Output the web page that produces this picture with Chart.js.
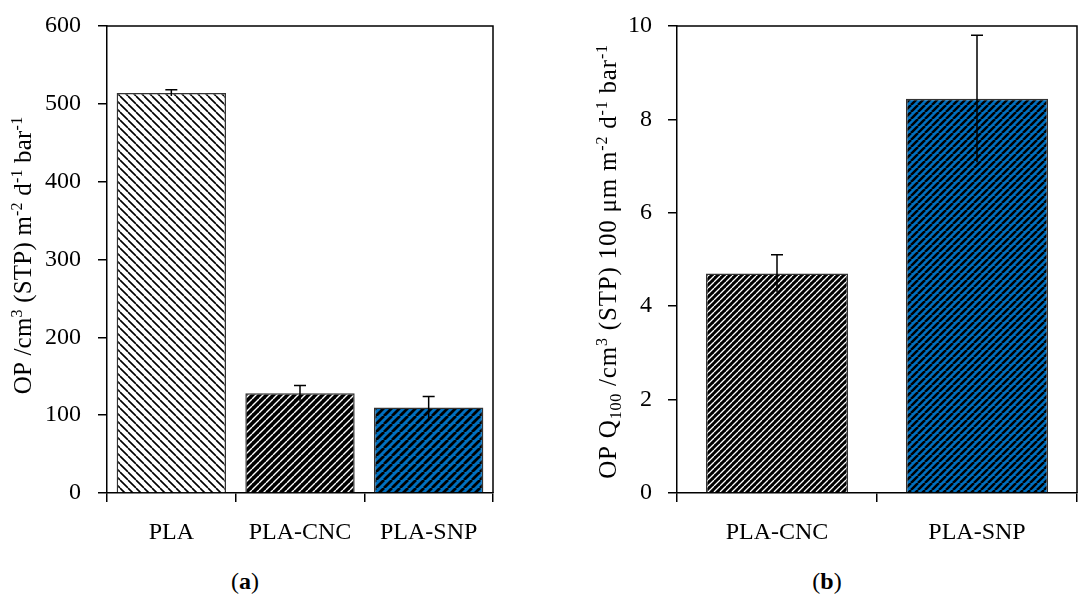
<!DOCTYPE html>
<html>
<head>
<meta charset="utf-8">
<script src="https://cdn.jsdelivr.net/npm/chart.js@4.4.0/dist/chart.umd.min.js"></script>
<style>
body{margin:0;background:#fff;width:1081px;height:594px;overflow:hidden;position:relative;font-family:"Liberation Serif",serif}
#wa{position:absolute;left:0;top:0;width:540px;height:560px}
#wb{position:absolute;left:540px;top:0;width:541px;height:560px}
.cap{position:absolute;top:568px;width:100px;text-align:center;font-size:24px;line-height:26px;color:#000}
</style>
</head>
<body>
<div id="wa"><canvas id="chartA"></canvas></div>
<div id="wb"><canvas id="chartB"></canvas></div>
<div class="cap" style="left:195px">(<b>a</b>)</div>
<div class="cap" style="left:777px">(<b>b</b>)</div>
<script>
// panel (a)
var catsA = ['PLA', 'PLA-CNC', 'PLA-SNP'];
var valsA = [514, 128, 110];
var errA = [4, 10, 14];
// panel (b)
var catsB = ['PLA-CNC', 'PLA-SNP'];
var valsB = [4.70, 8.44];
var errB = [0.40, 1.36];

var FONT = 'Liberation Serif';

function stripes(bg, fg, size, lw, slash) {
    var c = document.createElement('canvas');
    c.width = size; c.height = size;
    var g = c.getContext('2d');
    g.fillStyle = bg;
    g.fillRect(0, 0, size, size);
    g.strokeStyle = fg;
    g.lineWidth = lw;
    g.beginPath();
    for (var k = -1; k <= 1; k++) {
        if (slash) {
            g.moveTo(k * size, size); g.lineTo(k * size + size, 0);
        } else {
            g.moveTo(k * size, 0); g.lineTo(k * size + size, size);
        }
    }
    g.stroke();
    return g.createPattern(c, 'repeat');
}

var BLUE = '#0070c0';

// error bars, only top cap shows
var errPlugin = {
    id: 'errbars',
    afterDatasetsDraw: function(chart, args, opts) {
        var ctx = chart.ctx;
        var meta = chart.getDatasetMeta(0);
        var ys = chart.scales.y;
        var vals = chart.data.datasets[0].data;
        ctx.save();
        ctx.strokeStyle = '#000';
        ctx.lineWidth = 1.5;
        meta.data.forEach(function(bar, i) {
            var x = bar.x;
            var top = ys.getPixelForValue(vals[i] + opts.err[i]);
            var bot = ys.getPixelForValue(vals[i] - opts.err[i]);
            ctx.beginPath();
            ctx.moveTo(x, bot); ctx.lineTo(x, top);
            ctx.moveTo(x - 6, top); ctx.lineTo(x + 6, top);
            ctx.stroke();
        });
        ctx.restore();
    }
};

// top + right frame lines
var framePlugin = {
    id: 'frame',
    afterDraw: function(chart) {
        var a = chart.chartArea, ctx = chart.ctx;
        ctx.save();
        ctx.strokeStyle = '#000';
        ctx.lineWidth = 1.5;
        ctx.beginPath();
        ctx.moveTo(a.left, a.top); ctx.lineTo(a.right, a.top); ctx.lineTo(a.right, a.bottom);
        ctx.stroke();
        ctx.restore();
    }
};

// y title with sup/sub
var titlePlugin = {
    id: 'richTitle',
    afterDraw: function(chart, args, opts) {
        if (!opts.parts) return;
        var ctx = chart.ctx, a = chart.chartArea;
        var main = opts.size + 'px "' + FONT + '"';
        var small = Math.round(opts.size * 0.64) + 'px "' + FONT + '"';
        var total = 0;
        ctx.save();
        ctx.letterSpacing = opts.spacing + 'px';
        opts.parts.forEach(function(p) {
            ctx.font = p[1] ? small : main;
            total += ctx.measureText(p[0]).width;
        });
        ctx.translate(opts.x, (a.top + a.bottom) / 2 + opts.dy);
        ctx.rotate(-Math.PI / 2);
        ctx.fillStyle = '#000';
        ctx.textBaseline = 'alphabetic';
        var pos = -total / 2;
        var base = opts.size * 0.33;
        opts.parts.forEach(function(p) {
            ctx.font = p[1] ? small : main;
            var off = p[1] === 1 ? -opts.size * 0.38 : (p[1] === -1 ? opts.size * 0.2 : 0);
            ctx.fillText(p[0], pos, base + off);
            pos += ctx.measureText(p[0]).width;
        });
        ctx.restore();
    }
};

function axisOpts(axisSize, isY, extra) {
    var o = {
        grid: { display: true, drawOnChartArea: false, drawTicks: true, tickLength: 9, color: '#000', lineWidth: 1.5 },
        border: { display: true, color: '#000', width: 1.5 },
        ticks: { color: '#000', font: { family: FONT, size: 24 }, padding: isY ? 17 : 16 },
        afterFit: function(s) {
            if (isY) {
                s.width = axisSize;
                s.paddingTop = 10;
                s.paddingBottom = 10;
            } else {
                s.height = axisSize;
            }
        }
    };
    for (var k in extra) o[k] = extra[k];
    return o;
}

Chart.defaults.animation = false;

new Chart(document.getElementById('chartA').getContext('2d'), {
    type: 'bar',
    data: {
        labels: catsA,
        datasets: [{
            data: valsA,
            backgroundColor: [
                stripes('#fff', '#000', 8, 1.6, false),
                stripes('#000', '#fff', 7, 1.4, true),
                stripes(BLUE, '#000', 8, 2.8, true)
            ],
            borderColor: '#333',
            borderWidth: 1.5,
            barPercentage: 0.85,
            categoryPercentage: 1
        }]
    },
    options: {
        responsive: true,
        maintainAspectRatio: false,
        layout: { padding: { left: 0, top: 26, right: 47, bottom: 0 } },
        plugins: {
            legend: { display: false },
            tooltip: { enabled: false },
            errbars: { err: errA },
            richTitle: {
                x: 23, dy: -4, size: 25, spacing: 0.2,
                parts: [['OP /cm', 0], ['3', 1], [' (STP) m', 0], ['-2', 1], [' d', 0], ['-1', 1], [' bar', 0], ['-1', 1]]
            }
        },
        scales: {
            x: axisOpts(67, false, {}),
            y: axisOpts(107, true, { min: 0, max: 600 })
        }
    },
    plugins: [errPlugin, framePlugin, titlePlugin]
});
new Chart(document.getElementById('chartB').getContext('2d'), {
    type: 'bar',
    data: {
        labels: catsB,
        datasets: [{
            data: valsB,
            backgroundColor: [
                stripes('#000', '#fff', 6, 1.3, true),
                stripes(BLUE, '#000', 7, 2.5, true)
            ],
            borderColor: '#333',
            borderWidth: 1.5,
            barPercentage: 0.71,
            categoryPercentage: 1
        }]
    },
    options: {
        responsive: true,
        maintainAspectRatio: false,
        layout: { padding: { left: 0, top: 26, right: 4, bottom: 0 } },
        plugins: {
            legend: { display: false },
            tooltip: { enabled: false },
            errbars: { err: errB },
            richTitle: {
                x: 68, dy: 2, size: 25, spacing: 0.8,
                parts: [['OP Q', 0], ['100', -1], [' /cm', 0], ['3', 1], [' (STP) 100 μm m', 0], ['-2', 1], [' d', 0], ['-1', 1], [' bar', 0], ['-1', 1]]
            }
        },
        scales: {
            x: axisOpts(67, false, {}),
            y: axisOpts(137, true, { min: 0, max: 10, ticks: { color: '#000', font: { family: FONT, size: 24 }, padding: 16, stepSize: 2 } })
        }
    },
    plugins: [errPlugin, framePlugin, titlePlugin]
});
</script>
</body>
</html>
